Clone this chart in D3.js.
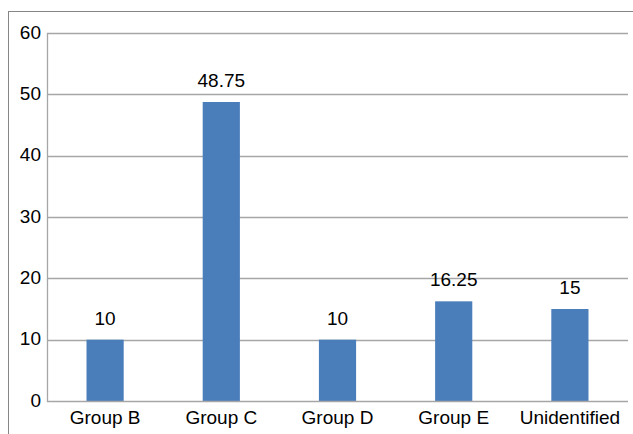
<!DOCTYPE html>
<html>
<head>
<meta charset="utf-8">
<script src="https://cdn.jsdelivr.net/npm/d3@7"></script>
<style>
  html, body { margin: 0; padding: 0; background: #fff; }
  svg { display: block; font-family: "Liberation Sans", Arial, sans-serif; }
</style>
</head>
<body>
<svg id="chart" width="633" height="434"></svg>
<script>
// Group counts
const categories = ["Group B", "Group C", "Group D", "Group E", "Unidentified"];
const values = [10, 48.75, 10, 16.25, 15];
const yTicks = [0, 10, 20, 30, 40, 50, 60];

const svg = d3.select("#chart");
const W = 633, H = 434;
const plot = { left: 47, right: 628, top: 33, bottom: 401 };

// outer chart frame, running off the right and bottom edges
svg.append("rect")
  .attr("x", 8.5).attr("y", 11.5)
  .attr("width", 700).attr("height", 500)
  .attr("fill", "none")
  .attr("stroke", "#868686")
  .attr("stroke-width", 1);

const x = d3.scaleBand()
  .domain(categories)
  .range([plot.left, plot.right])
  .paddingInner(0.68)
  .paddingOuter(0.34);

const y = d3.scaleLinear()
  .domain([0, 60])
  .range([plot.bottom, plot.top]);

// horizontal gridlines
svg.append("g")
  .selectAll("line")
  .data(yTicks.filter(d => d > 0))
  .join("line")
  .attr("x1", plot.left).attr("x2", plot.right)
  .attr("y1", d => Math.round(y(d)) + 0.5)
  .attr("y2", d => Math.round(y(d)) + 0.5)
  .attr("stroke", "#a6a6a6")
  .attr("stroke-width", 1.3);

// y axis (labels only, the line drawn separately)
const yAxis = svg.append("g")
  .attr("transform", `translate(${plot.left},0)`)
  .call(d3.axisLeft(y).tickValues(yTicks).tickSize(0).tickPadding(6).tickFormat(d3.format("d")));
yAxis.select(".domain").remove();
yAxis.selectAll("text")
  .attr("font-size", 19)
  .attr("font-family", "Liberation Sans, Arial, sans-serif")
  .attr("fill", "#000")
  .attr("dy", "0.28em");

// bars
svg.append("g")
  .selectAll("rect")
  .data(categories.map((c, i) => ({ c, v: values[i] })))
  .join("rect")
  .attr("x", d => x(d.c))
  .attr("width", x.bandwidth())
  .attr("y", d => y(d.v))
  .attr("height", d => y(0) - y(d.v))
  .attr("fill", "#4a7ebb");

// value labels
svg.append("g")
  .selectAll("text")
  .data(categories.map((c, i) => ({ c, v: values[i] })))
  .join("text")
  .attr("x", d => x(d.c) + x.bandwidth() / 2)
  .attr("y", d => y(d.v) - 15)
  .attr("text-anchor", "middle")
  .attr("font-size", 19)
  .attr("fill", "#000")
  .text(d => d.v);

// axis lines
svg.append("line")
  .attr("x1", plot.left + 0.5).attr("x2", plot.left + 0.5)
  .attr("y1", plot.top).attr("y2", plot.bottom + 1)
  .attr("stroke", "#a6a6a6").attr("stroke-width", 1.3);
svg.append("line")
  .attr("x1", plot.left).attr("x2", plot.right)
  .attr("y1", plot.bottom + 0.5).attr("y2", plot.bottom + 0.5)
  .attr("stroke", "#a6a6a6").attr("stroke-width", 1.3);

// category labels
const xAxis = svg.append("g")
  .attr("transform", `translate(0,${plot.bottom})`)
  .call(d3.axisBottom(x).tickSize(0).tickPadding(0));
xAxis.select(".domain").remove();
xAxis.selectAll("text")
  .attr("font-size", 19)
  .attr("font-family", "Liberation Sans, Arial, sans-serif")
  .attr("fill", "#000")
  .attr("dy", null)
  .attr("y", 23);
</script>
</body>
</html>
